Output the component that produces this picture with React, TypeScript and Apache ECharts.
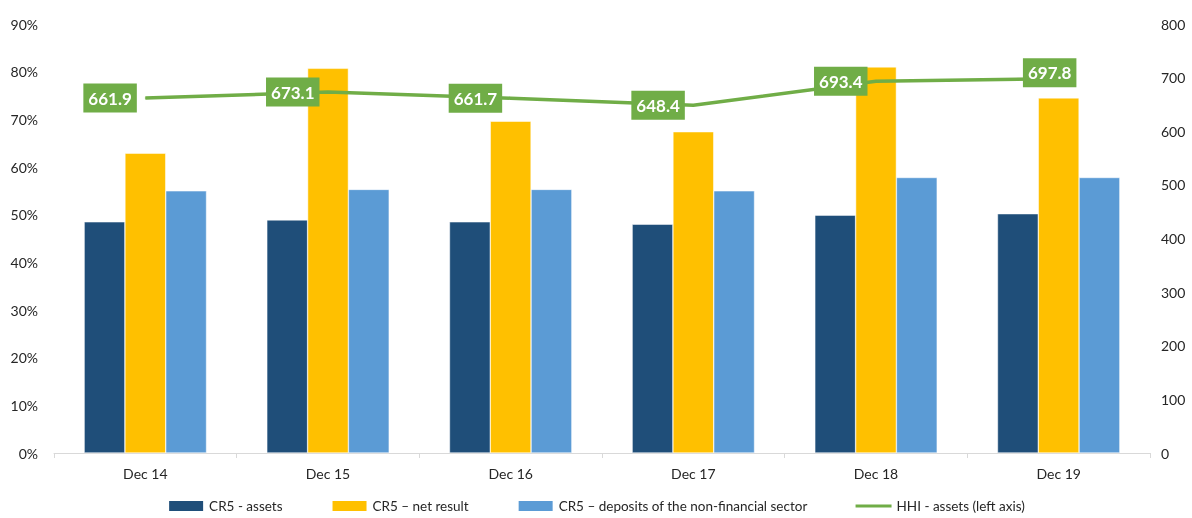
import React, { useEffect, useRef } from "react";
import * as echarts from "echarts";

const categories = ["Dec 14", "Dec 15", "Dec 16", "Dec 17", "Dec 18", "Dec 19"];
const cr5Assets = [48.5, 48.9, 48.5, 48.0, 49.9, 50.2];
const cr5NetResult = [62.9, 80.7, 69.6, 67.4, 81.0, 74.5];
const cr5Deposits = [55.0, 55.3, 55.3, 55.0, 57.8, 57.8];
const hhiAssets = [661.9, 673.1, 661.7, 648.4, 693.4, 697.8];

const seriesNames = [
  "CR5 - assets",
  "CR5 – net result",
  "CR5 – deposits of the non-financial sector",
  "HHI - assets (left axis)",
];

const FONT = "Lato, 'Open Sans', sans-serif";

export default function App() {
  const ref = useRef<HTMLDivElement>(null);

  useEffect(() => {
    if (!ref.current) return;
    const chart = echarts.init(ref.current, undefined, { renderer: "svg" });
    const lastIdx = hhiAssets.length - 1;
    const hhiData = hhiAssets.map((v, i) =>
      i === lastIdx
        ? { value: v, label: { position: "inside", offset: [-9, -6] } }
        : { value: v }
    );
    chart.setOption({
      animation: false,
      textStyle: { fontFamily: FONT },
      grid: { left: 54, right: 42, top: 24, bottom: 65 },
      legend: {
        bottom: 0,
        left: "center",
        itemWidth: 36,
        itemHeight: 12,
        itemGap: 48,
        textStyle: { fontSize: 13.5, color: "#262626", fontFamily: FONT },
        data: seriesNames.map((n, i) =>
          i === 3 ? { name: n, icon: "path://M0,0 L36,0 L36,3 L0,3 Z" } : { name: n, icon: "rect" }
        ),
      },
      xAxis: {
        type: "category",
        data: categories,
        axisLine: { show: true, lineStyle: { color: "#D9D9D9", width: 1 } },
        axisTick: { show: true, length: 5, lineStyle: { color: "#D9D9D9" } },
        axisLabel: { fontSize: 14, color: "#262626", margin: 13, fontFamily: FONT },
      },
      yAxis: [
        {
          type: "value",
          min: 0,
          max: 90,
          interval: 10,
          axisLabel: { formatter: "{value}%", fontSize: 14, color: "#262626", margin: 16, fontFamily: FONT },
          axisLine: { show: false },
          axisTick: { show: false },
          splitLine: { show: false },
        },
        {
          type: "value",
          min: 0,
          max: 800,
          interval: 100,
          position: "right",
          axisLabel: { fontSize: 14, color: "#262626", margin: 11, fontFamily: FONT },
          axisLine: { show: false },
          axisTick: { show: false },
          splitLine: { show: false },
        },
      ],
      series: [
        {
          name: seriesNames[0],
          type: "bar",
          data: cr5Assets,
          barGap: "0%",
          barCategoryGap: "33%",
          itemStyle: { color: "#1F4E79", borderColor: "#ffffff", borderWidth: 0.5 },
        },
        {
          name: seriesNames[1],
          type: "bar",
          data: cr5NetResult,
          barGap: "0%",
          barCategoryGap: "33%",
          itemStyle: { color: "#FFC000", borderColor: "#ffffff", borderWidth: 0.5 },
        },
        {
          name: seriesNames[2],
          type: "bar",
          data: cr5Deposits,
          barGap: "0%",
          barCategoryGap: "33%",
          itemStyle: { color: "#5B9BD5", borderColor: "#ffffff", borderWidth: 0.5 },
        },
        {
          name: seriesNames[3],
          type: "line",
          yAxisIndex: 1,
          data: hhiData,
          symbol: "circle",
          symbolSize: 1,
          showSymbol: true,
          lineStyle: { color: "#70AD47", width: 3.5 },
          itemStyle: { color: "#70AD47" },
          z: 5,
          label: {
            show: true,
            position: "left",
            distance: 8,
            formatter: (p: any) => Number(p.value).toFixed(1),
            backgroundColor: "#70AD47",
            color: "#ffffff",
            fontWeight: "bold",
            fontSize: 17,
            lineHeight: 19,
            padding: [5, 5, 5, 5],
            fontFamily: FONT,
          },
        },
      ],
    });
    return () => chart.dispose();
  }, []);

  return (
    <div
      ref={ref}
      style={{ position: "fixed", left: 0, top: 0, width: 1192, height: 518 }}
    />
  );
}
